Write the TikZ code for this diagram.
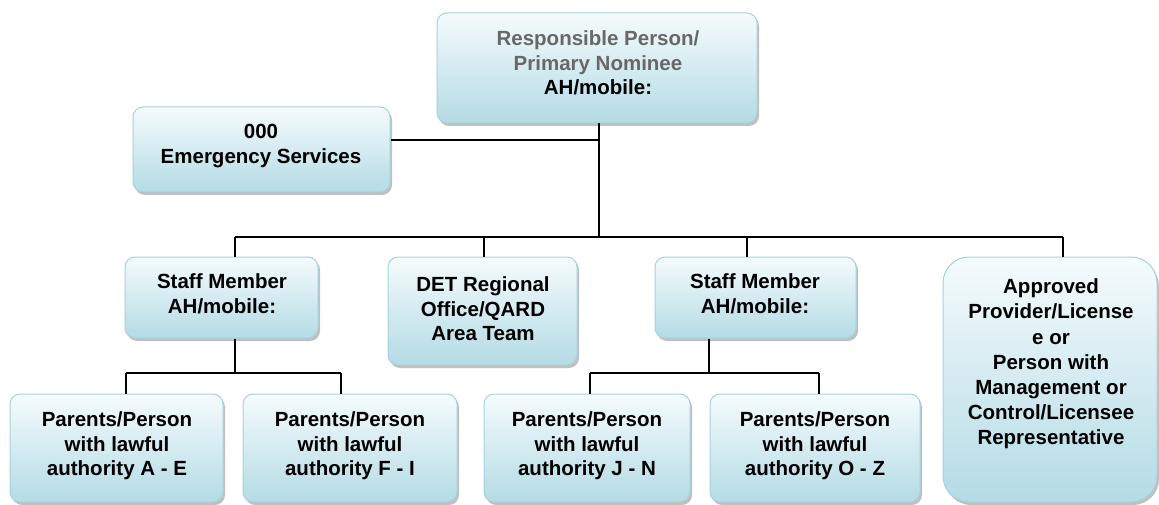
\documentclass[tikz,border=0pt]{standalone}
\usepackage{fontspec}
\setmainfont{Liberation Sans}
\usetikzlibrary{shadows,calc}
\definecolor{boxtop}{HTML}{F5FBFD}
\definecolor{boxbot}{HTML}{B4DBE5}
\definecolor{boxline}{HTML}{A6D2DD}
\definecolor{greytxt}{HTML}{686868}
\tikzset{
  box/.style={draw=boxline, line width=1pt, rounded corners=10pt,
    top color=boxtop, bottom color=boxbot, inner sep=0pt,
    drop shadow={shadow xshift=2pt, shadow yshift=-3pt, opacity=.45, fill=black!55}},
  bigbox/.style={box, rounded corners=26pt},
  txt/.style={font=\fontsize{20.5}{24.5}\selectfont\bfseries, align=center, text=black, inner sep=0pt},
  link/.style={draw=black, line width=1.4pt}
}
\begin{document}
\begin{tikzpicture}[x=1pt,y=-1pt]
\useasboundingbox (0,0) rectangle (1159,505);
% coordinates for the connector network
\coordinate (j1) at (599,140);
\coordinate (bus) at (599,237);
\coordinate (busL) at (235,237);
\coordinate (busD) at (484,237);
\coordinate (busS) at (747,237);
\coordinate (busR) at (1063,237);
\coordinate (sub1) at (235,373);
\coordinate (sub1L) at (126,373);
\coordinate (sub1R) at (341,373);
\coordinate (sub2) at (709,373);
\coordinate (sub2L) at (590,373);
\coordinate (sub2R) at (819,373);

% boxes
\node[box, minimum width=320, minimum height=110] (top) at (597,68) {};
\node[box, minimum width=257, minimum height=85] (em) at (261.5,149.5) {};
\node[box, minimum width=193, minimum height=81] (s1) at (221.5,297.5) {};
\node[box, minimum width=189, minimum height=108] (det) at (482.5,311) {};
\node[box, minimum width=201, minimum height=81] (s2) at (755.5,297.5) {};
\node[bigbox, minimum width=214, minimum height=245] (ap) at (1050,379.5) {};
\node[box, minimum width=213, minimum height=108] (ae) at (116.5,448) {};
\node[box, minimum width=214, minimum height=108] (fi) at (350,448) {};
\node[box, minimum width=206, minimum height=108] (jn) at (587,448) {};
\node[box, minimum width=210, minimum height=108] (oz) at (815,448) {};

% connectors
\draw[link] (top.south -| j1) -- (bus);
\draw[link] (em.east |- j1) -- (j1);
\draw[link] (busL) -- (busR);
\draw[link] (busL) -- (busL |- s1.north);
\draw[link] (busD) -- (busD |- det.north);
\draw[link] (busS) -- (busS |- s2.north);
\draw[link] (busR) -- (busR |- ap.north);
\draw[link] (sub1 |- s1.south) -- (sub1);
\draw[link] (sub1L) -- (sub1R);
\draw[link] (sub1L) -- (sub1L |- ae.north);
\draw[link] (sub1R) -- (sub1R |- fi.north);
\draw[link] (sub2 |- s2.south) -- (sub2);
\draw[link] (sub2L) -- (sub2R);
\draw[link] (sub2L) -- (sub2L |- jn.north);
\draw[link] (sub2R) -- (sub2R |- oz.north);

% texts
\node[txt] (ttop) at (598,63) {\textcolor{greytxt}{Responsible Person/}\\\textcolor{greytxt}{Primary Nominee}\\AH/mobile:};
\node[txt] (tem) at (261,146) {000\\Emergency Services};
\node[txt] (ts1) at (222,294) {Staff Member\\AH/mobile:};
\node[txt] (tdet) at (483,309) {DET Regional\\Office/QARD\\Area Team};
\node[txt] (ts2) at (755,294) {Staff Member\\AH/mobile:};
\node[txt, font=\fontsize{20.5}{25.2}\selectfont\bfseries] (tap) at (1051,364) {Approved\\Provider/License\\e or\\ Person with\\Management or\\Control/Licensee\\Representative};
\node[txt] (tae) at (117,446) {Parents/Person\\with lawful\\authority A - E};
\node[txt] (tfi) at (350,446) {Parents/Person\\with lawful\\authority F - I};
\node[txt] (tjn) at (587,446) {Parents/Person\\with lawful\\authority J - N};
\node[txt] (toz) at (815,446) {Parents/Person\\with lawful\\authority O - Z};
\end{tikzpicture}
\end{document}
